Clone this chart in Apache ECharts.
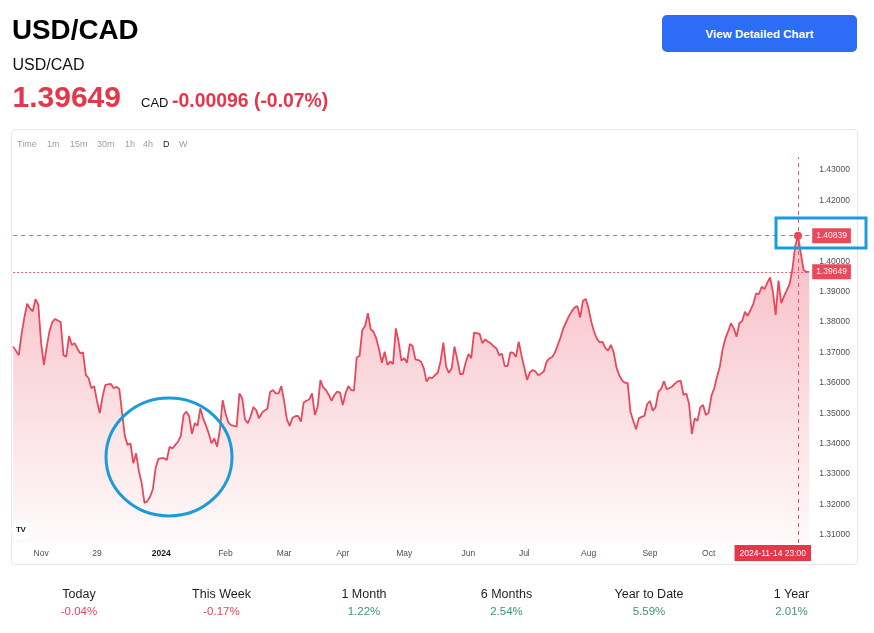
<!DOCTYPE html>
<html>
<head>
<meta charset="utf-8">
<script src="https://cdn.jsdelivr.net/npm/echarts@6/dist/echarts.min.js"></script>
<style>
  html, body { margin:0; padding:0; background:#fff; width:874px; height:633px; overflow:hidden; font-family:"Liberation Sans", Arial, sans-serif; }
  .abs { position:absolute; white-space:nowrap; line-height:1; }
  #frame { position:absolute; left:11px; top:129px; width:845px; height:434px; border:1px solid #e6e8ee; border-radius:4px; }
  #chart { position:absolute; left:0; top:0; width:874px; height:633px; }
  .tb { position:absolute; top:140px; font-size:9px; color:#9aa0a8; line-height:1; }
  .stat { position:absolute; width:143px; text-align:center; line-height:1; }
</style>
</head>
<body>
<div id="frame"></div>
<div id="chart"></div>

<div class="abs" style="left:12px;top:16px;font-size:27.8px;font-weight:bold;color:#000;">USD/CAD</div>
<div class="abs" style="left:12.5px;top:56.5px;font-size:16px;color:#111;">USD/CAD</div>
<div class="abs" style="left:12.5px;top:82px;font-size:30px;font-weight:bold;color:#e5364a;">1.39649</div>
<div class="abs" style="left:141px;top:95.7px;font-size:13px;color:#111;">CAD</div>
<div class="abs" style="left:172px;top:91px;font-size:19.4px;font-weight:bold;color:#e5364a;">-0.00096 (-0.07%)</div>

<div class="abs" style="left:662px;top:15px;width:195px;height:37px;background:#2d6cf5;border-radius:5px;color:#fff;font-size:11.6px;font-weight:bold;display:flex;align-items:center;justify-content:center;">View Detailed Chart</div>

<span class="tb" style="left:17px;">Time</span>
<span class="tb" style="left:47px;">1m</span>
<span class="tb" style="left:70px;">15m</span>
<span class="tb" style="left:97px;">30m</span>
<span class="tb" style="left:125px;">1h</span>
<span class="tb" style="left:143px;">4h</span>
<span class="tb" style="left:163px;color:#131722;">D</span>
<span class="tb" style="left:179px;">W</span>

<div class="abs" style="left:11px;top:520px;width:22px;height:20px;background:#fff;border-radius:10px;"></div>
<div class="abs" style="left:16px;top:526px;font-size:8px;font-weight:bold;color:#131722;letter-spacing:-0.5px;">TV</div>

<div id="stats"></div>

<script>
// ---------- data ----------
var startDate = '2023-10-18';       // first daily bar (weekdays only)
var barCount = 286;
var closes = [
  1.3719, 1.3705, 1.3691, 1.3760, 1.3815, 1.3860, 1.3845, 1.3835, 1.3875, 1.3856,
  1.3730, 1.3659, 1.3719, 1.3770, 1.3800, 1.3810, 1.3805, 1.3800, 1.3691, 1.3686,
  1.3754, 1.3724, 1.3730, 1.3712, 1.3697, 1.3700, 1.3626, 1.3615, 1.3582, 1.3589,
  1.3540, 1.3500, 1.3555, 1.3593, 1.3595, 1.3596, 1.3582, 1.3587, 1.3579, 1.3500,
  1.3423, 1.3395, 1.3401, 1.3335, 1.3368, 1.3310, 1.3270, 1.3205, 1.3210, 1.3225,
  1.3250, 1.3320, 1.3350, 1.3352, 1.3352, 1.3346, 1.3390, 1.3384, 1.3395, 1.3406,
  1.3425, 1.3494, 1.3505, 1.3490, 1.3432, 1.3467, 1.3458, 1.3516, 1.3483, 1.3460,
  1.3434, 1.3401, 1.3417, 1.3390, 1.3445, 1.3543, 1.3500, 1.3470, 1.3461, 1.3458,
  1.3456, 1.3565, 1.3549, 1.3480, 1.3467, 1.3489, 1.3520, 1.3510, 1.3483, 1.3500,
  1.3509, 1.3515, 1.3570, 1.3576, 1.3565, 1.3565, 1.3589, 1.3540, 1.3480, 1.3458,
  1.3485, 1.3490, 1.3491, 1.3472, 1.3535, 1.3541, 1.3545, 1.3565, 1.3494, 1.3521,
  1.3609, 1.3585, 1.3576, 1.3560, 1.3541, 1.3560, 1.3571, 1.3568, 1.3527, 1.3565,
  1.3589, 1.3576, 1.3574, 1.3684, 1.3688, 1.3774, 1.3787, 1.3829, 1.3776, 1.3768,
  1.3746, 1.3710, 1.3666, 1.3702, 1.3659, 1.3670, 1.3662, 1.3779, 1.3735, 1.3673,
  1.3681, 1.3666, 1.3728, 1.3721, 1.3677, 1.3675, 1.3670, 1.3648, 1.3604, 1.3618,
  1.3615, 1.3625, 1.3633, 1.3670, 1.3732, 1.3653, 1.3633, 1.3648, 1.3719, 1.3677,
  1.3629, 1.3629, 1.3666, 1.3695, 1.3681, 1.3765, 1.3763, 1.3761, 1.3730, 1.3743,
  1.3735, 1.3730, 1.3720, 1.3713, 1.3691, 1.3695, 1.3655, 1.3655, 1.3700, 1.3699,
  1.3685, 1.3735, 1.3690, 1.3650, 1.3609, 1.3635, 1.3642, 1.3637, 1.3625, 1.3630,
  1.3638, 1.3670, 1.3680, 1.3685, 1.3700, 1.3725, 1.3750, 1.3780, 1.3800, 1.3820,
  1.3835, 1.3848, 1.3852, 1.3815, 1.3870, 1.3876, 1.3845, 1.3800, 1.3768, 1.3745,
  1.3733, 1.3735, 1.3715, 1.3706, 1.3725, 1.3700, 1.3650, 1.3625, 1.3608, 1.3600,
  1.3600, 1.3505, 1.3475, 1.3447, 1.3483, 1.3488, 1.3491, 1.3530, 1.3540, 1.3508,
  1.3520, 1.3570, 1.3580, 1.3605, 1.3579, 1.3583, 1.3588, 1.3598, 1.3605, 1.3607,
  1.3560, 1.3565, 1.3530, 1.3432, 1.3483, 1.3475, 1.3519, 1.3527, 1.3494, 1.3502,
  1.3557, 1.3582, 1.3620, 1.3653, 1.3710, 1.3746, 1.3770, 1.3796, 1.3779, 1.3752,
  1.3796, 1.3803, 1.3834, 1.3820, 1.3840, 1.3860, 1.3894, 1.3892, 1.3916, 1.3908,
  1.3929, 1.3947, 1.3900, 1.3823, 1.3936, 1.3862, 1.3885, 1.3905, 1.3925, 1.3975,
  1.4050, 1.40839, 1.4026, 1.3971, 1.3965, 1.39649
];
var tickDates  = ['2023-11-01','2023-11-29','2024-01-01','2024-02-01','2024-03-01','2024-04-01','2024-05-01','2024-06-03','2024-07-01','2024-08-01','2024-09-02','2024-10-01'];
var tickLabels = ['Nov','29','2024','Feb','Mar','Apr','May','Jun','Jul','Aug','Sep','Oct'];
// 1.41000 sits under the 1.40839 price label and is hidden, as in the reference
var priceTicks = [1.31, 1.32, 1.33, 1.34, 1.35, 1.36, 1.37, 1.38, 1.39, 1.40, 1.42, 1.43];
var crossDate = '2024-11-14';
var crossLabel = '2024-11-14 23:00';
var crossValue = 1.40839;
var lastPrice = 1.39649;
var statNames  = ['Today','This Week','1 Month','6 Months','Year to Date','1 Year'];
var statValues = ['-0.04%','-0.17%','1.22%','2.54%','5.59%','2.01%'];

// ---------- categories (weekday bars) ----------
var dates = [];
(function(){
  var d = new Date(startDate + 'T00:00:00Z');
  while (dates.length < barCount) {
    var wd = d.getUTCDay();
    if (wd !== 0 && wd !== 6) dates.push(d.toISOString().slice(0,10));
    d.setUTCDate(d.getUTCDate() + 1);
  }
})();
var tickMap = {};
tickDates.forEach(function(t, i){ tickMap[t] = tickLabels[i]; });

// ---------- stats row ----------
var statsEl = document.getElementById('stats');
statNames.forEach(function(n, i){
  var cx = 79 + 142.5 * i;
  var a = document.createElement('div');
  a.className = 'stat';
  a.style.left = (cx - 71.5) + 'px'; a.style.top = '588px';
  a.style.fontSize = '12.5px'; a.style.color = '#1e1e1e';
  a.textContent = n;
  var b = document.createElement('div');
  b.className = 'stat';
  b.style.left = (cx - 71.5) + 'px'; b.style.top = '605.5px';
  b.style.fontSize = '11.5px';
  b.style.color = statValues[i].charAt(0) === '-' ? '#e2475c' : '#3d9676';
  b.textContent = statValues[i];
  statsEl.appendChild(a); statsEl.appendChild(b);
});

// ---------- chart ----------
var red = '#e8485c';
var dashRed = '#e8485c';
var labelRed = '#e5364a';
var gridTop = 157, gridBottomY = 543, gridLeft = 13.2, gridRightX = 809.2;
var yMax = 1.43 + (170 - gridTop) / 3040;
var yMin = 1.43 - (gridBottomY - 170) / 3040;
var lblFont = '"Liberation Sans", Arial, sans-serif';

var chart = echarts.init(document.getElementById('chart'), null, {renderer:'canvas'});
chart.setOption({
  backgroundColor: 'transparent',
  animation: false,
  grid: { left: gridLeft, right: 874 - gridRightX, top: gridTop, bottom: 633 - gridBottomY, containLabel: false },
  xAxis: {
    type: 'category', data: dates, boundaryGap: false,
    axisLine: { show: false }, axisTick: { show: false }, splitLine: { show: false },
    axisLabel: {
      interval: function(idx, val){ return tickMap.hasOwnProperty(val); },
      formatter: function(val){ var t = tickMap[val] || ''; return t === '2024' ? '{y|2024}' : t; },
      color: '#4a4e57', fontSize: 8.5, margin: 6, fontFamily: lblFont,
      hideOverlap: false,
      rich: { y: { fontSize: 8.5, color: '#131722', fontWeight: 'bold', fontFamily: lblFont } }
    }
  },
  yAxis: {
    type: 'value', position: 'right', min: yMin, max: yMax, scale: true,
    axisLine: { show: false }, axisTick: { show: false }, splitLine: { show: false },
    axisLabel: {
      customValues: priceTicks,
      formatter: function(v){ return v.toFixed(5); },
      color: '#4a4e57', fontSize: 8.5, margin: 10, fontFamily: lblFont
    }
  },
  series: [{
    type: 'line', data: closes, symbol: 'none', smooth: false,
    lineStyle: { color: red, width: 1.8 },
    areaStyle: {
      color: new echarts.graphic.LinearGradient(0, 0, 0, 1, [
        { offset: 0, color: 'rgba(232,72,92,0.52)' },
        { offset: 1, color: 'rgba(232,72,92,0.04)' }
      ])
    },
    markLine: {
      silent: true, symbol: ['none','none'], animation: false, precision: 5,
      lineStyle: { color: dashRed, width: 1, type: [4,4], opacity: 0.9 },
      data: [
        { yAxis: crossValue,
          lineStyle: { type: [4,4], color: dashRed, width: 1 },
          label: { show: true, position: 'end', distance: 3, formatter: crossValue.toFixed(5),
                   backgroundColor: labelRed, color: '#fff', padding: [3,4,3,4], fontSize: 8.5,
                   fontFamily: lblFont } },
        { yAxis: lastPrice,
          lineStyle: { type: [2,2], color: red, width: 1 },
          label: { show: true, position: 'end', distance: 3, formatter: lastPrice.toFixed(5),
                   backgroundColor: labelRed, color: '#fff', padding: [3,4,3,4], fontSize: 8.5,
                   fontFamily: lblFont } },
        { xAxis: crossDate,
          lineStyle: { type: [4,4], color: dashRed, width: 1 },
          label: { show: false } }
      ]
    },
    markPoint: {
      silent: true, animation: false,
      data: [{ coord: [crossDate, crossValue] }],
      symbol: 'circle', symbolSize: 8,
      itemStyle: { color: red },
      label: { show: false }
    }
  }],
  graphic: [
    { type: 'text', right: 874 - 811, top: 545, z: 100,
      style: { text: crossLabel, fill: '#fff', backgroundColor: labelRed, padding: [4,5,3,5],
               fontSize: 8.5, fontFamily: lblFont } },
    { type: 'rect', shape: { x: 776, y: 218, width: 90, height: 30 }, z: 100,
      style: { fill: 'none', stroke: '#1b9bd8', lineWidth: 3 } },
    { type: 'ellipse', shape: { cx: 169, cy: 457, rx: 63, ry: 59 }, z: 100,
      style: { fill: 'none', stroke: '#1b9bd8', lineWidth: 3 } }
  ]
});
</script>
</body>
</html>
